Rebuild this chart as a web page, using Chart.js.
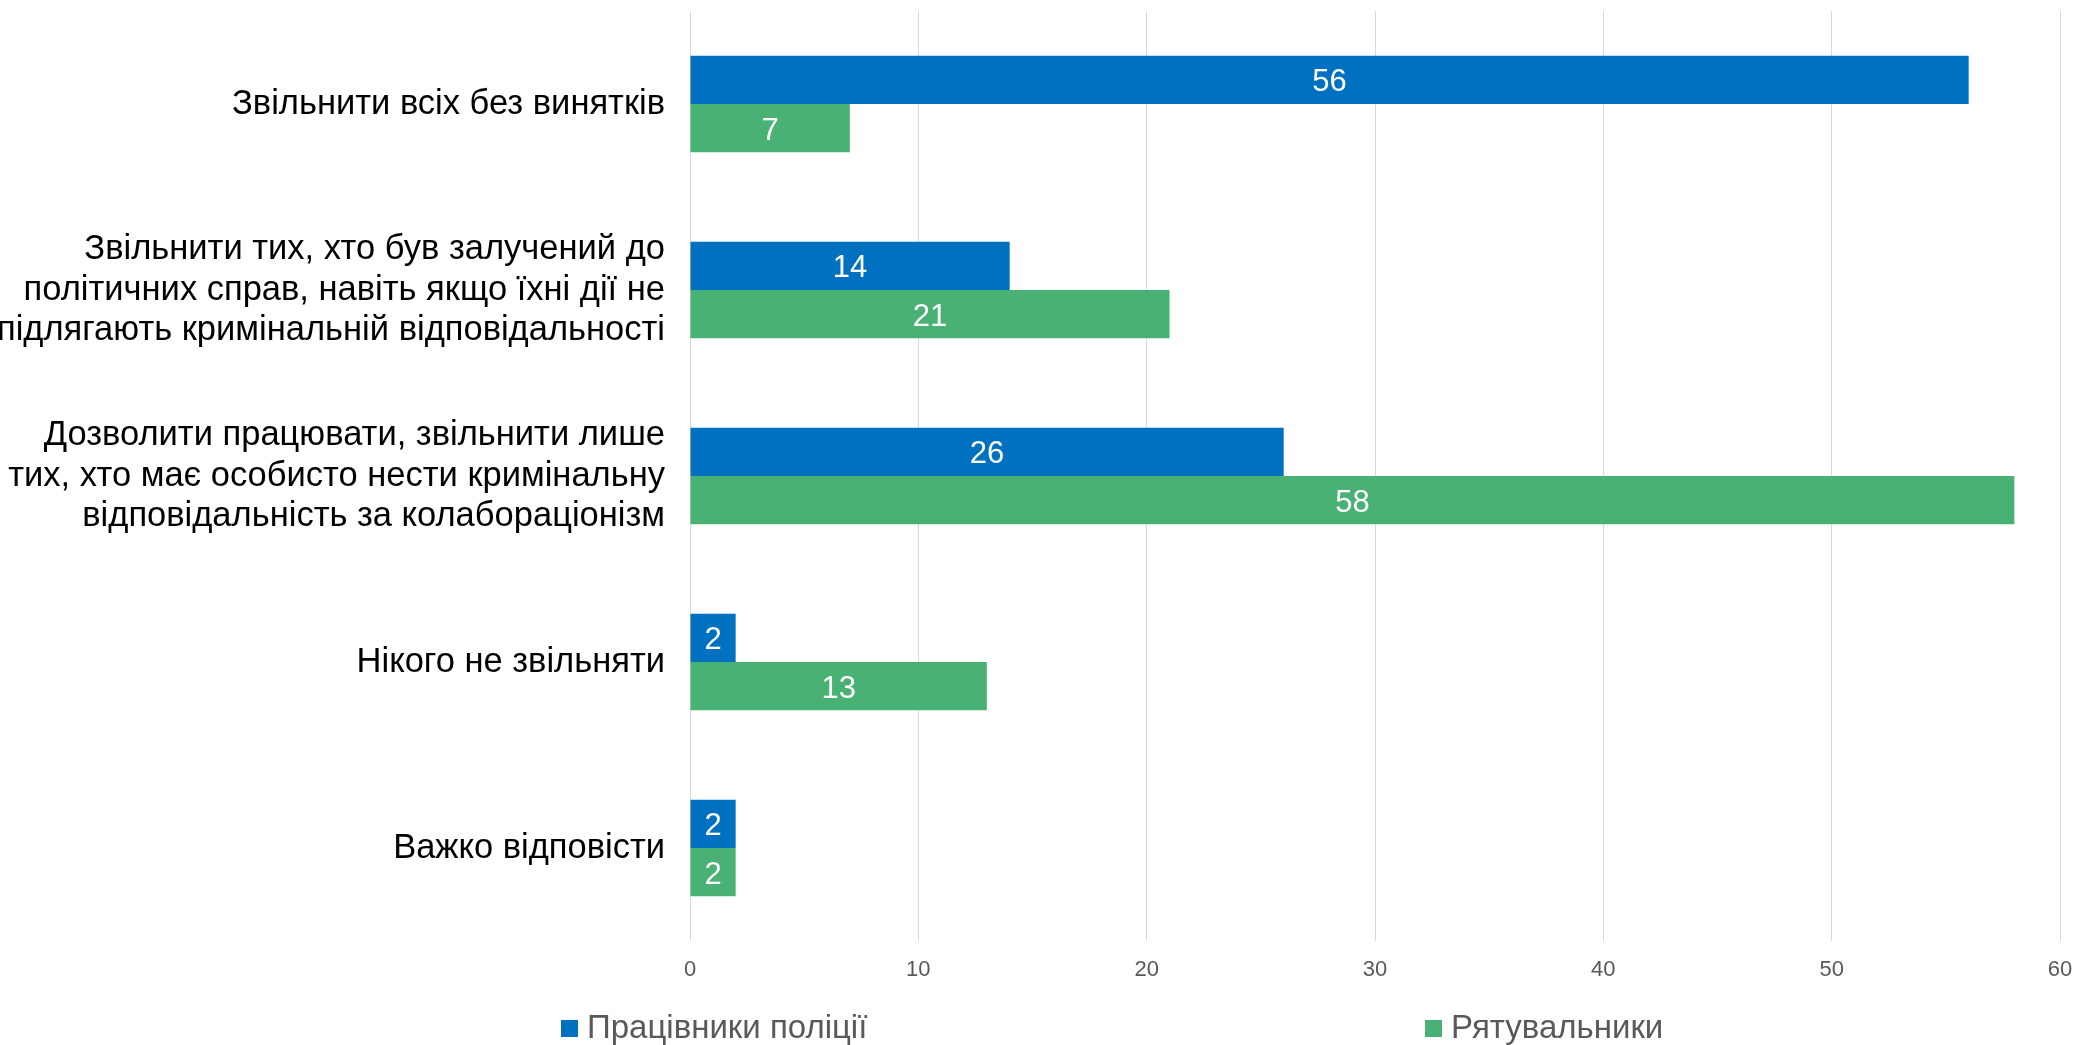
<!DOCTYPE html>
<html>
<head>
<meta charset="utf-8">
<script src="https://cdn.jsdelivr.net/npm/chart.js@4"></script>
<style>
  html, body { margin: 0; padding: 0; background: #fff; }
  #wrap { width: 2076px; height: 1045px; }
</style>
</head>
<body>
<div id="wrap"><canvas id="chart" width="2076" height="1045"></canvas></div>
<script>
// Categories (answer options)
const categories = [
  'Звільнити всіх без винятків',
  ['Звільнити тих, хто був залучений до', 'політичних справ, навіть якщо їхні дії не', 'підлягають кримінальній відповідальності'],
  ['Дозволити працювати, звільнити лише', 'тих, хто має особисто нести кримінальну', 'відповідальність за колабораціонізм'],
  'Нікого не звільняти',
  'Важко відповісти'
];

// Series values, %
const police = [56, 14, 26, 2, 2];
const rescuers = [7, 21, 58, 13, 2];

const seriesNames = ['Працівники поліції', 'Рятувальники'];
const xTicks = [0, 10, 20, 30, 40, 50, 60];

const FONT = "'Liberation Sans', Arial, sans-serif";

// white value labels in the middle of each bar
const valueLabels = {
  id: 'valueLabels',
  afterDatasetsDraw(chart) {
    const ctx = chart.ctx;
    ctx.save();
    ctx.font = '31px ' + FONT;
    ctx.fillStyle = '#ffffff';
    ctx.textAlign = 'center';
    ctx.textBaseline = 'middle';
    chart.data.datasets.forEach((ds, i) => {
      chart.getDatasetMeta(i).data.forEach((bar, j) => {
        const p = bar.getProps(['x', 'y', 'base'], true);
        ctx.fillText(ds.data[j], (p.x + p.base) / 2, p.y + 3);
      });
    });
    ctx.restore();
  }
};

// legend spread out like the original (one item per half)
const spreadLegend = {
  id: 'spreadLegend',
  afterDraw(chart) {
    const ctx = chart.ctx;
    const starts = [561, 1425];
    const y = 1028;
    ctx.save();
    ctx.font = '33px ' + FONT;
    ctx.textBaseline = 'middle';
    ctx.textAlign = 'left';
    chart.data.datasets.forEach((ds, i) => {
      ctx.fillStyle = ds.backgroundColor;
      ctx.fillRect(starts[i], y - 8, 17, 17);
      ctx.fillStyle = '#595959';
      ctx.fillText(ds.label, starts[i] + 26, y + 1);
    });
    ctx.restore();
  }
};

new Chart(document.getElementById('chart'), {
  type: 'bar',
  data: {
    labels: categories,
    datasets: [
      { label: seriesNames[0], data: police, backgroundColor: '#0070C0' },
      { label: seriesNames[1], data: rescuers, backgroundColor: '#49B173' }
    ]
  },
  options: {
    indexAxis: 'y',
    responsive: false,
    animation: false,
    devicePixelRatio: 1,
    layout: { padding: { top: 11, right: 16, bottom: 44, left: 0 } },
    datasets: { bar: { categoryPercentage: 0.52, barPercentage: 1 } },
    plugins: {
      legend: { display: false },
      tooltip: { enabled: false }
    },
    scales: {
      x: {
        min: 0,
        max: 60,
        afterBuildTicks: scale => { scale.ticks = xTicks.map(v => ({ value: v })); },
        afterFit: scale => {
          scale.height = 60;
          scale.paddingLeft = 0;
          scale.paddingRight = 0;
        },
        grid: { color: '#d9d9d9', lineWidth: 1, drawTicks: false },
        border: { display: false },
        ticks: { padding: 16, color: '#595959', font: { family: FONT, size: 22 } }
      },
      y: {
        afterFit: scale => {
          scale.width = 690;
          scale.paddingTop = 0;
          scale.paddingBottom = 0;
        },
        grid: { display: false, drawTicks: false },
        border: { display: false },
        ticks: { padding: 25, color: '#000000', font: { family: FONT, size: 34.5, lineHeight: 1.17 } }
      }
    }
  },
  plugins: [valueLabels, spreadLegend]
});
</script>
</body>
</html>
